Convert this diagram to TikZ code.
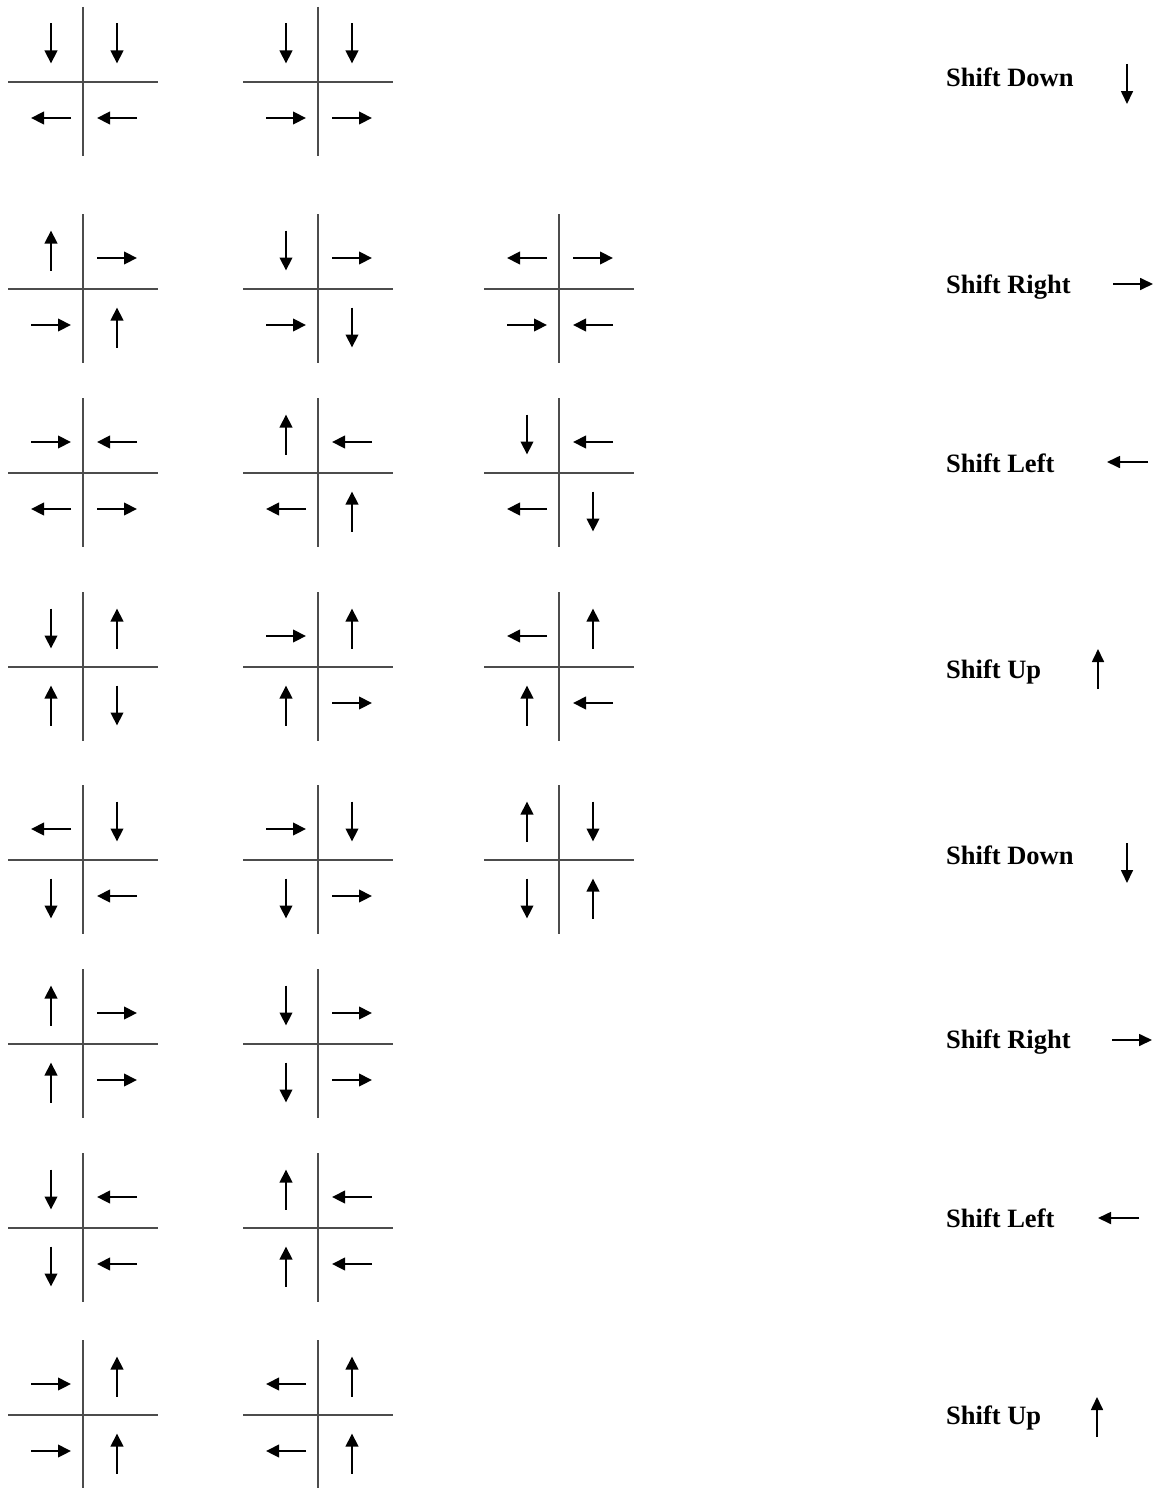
\documentclass[tikz,border=0pt]{standalone}
\usepackage{fontspec}
\setmainfont{Liberation Serif}
\usetikzlibrary{arrows.meta}

\tikzset{
  axisline/.style={black!70,line width=1.1pt},
  arr/.style={-{Triangle[length=13pt,width=12.5pt]},line width=2.2pt},
  keyarr/.style={-{Triangle[length=13pt,width=12pt]},line width=1.7pt},
  lbl/.style={font=\bfseries\fontsize{26.5}{30}\selectfont,inner sep=0pt,anchor=base west}
}

% #1 x of the arrow, #2 y of the cross, #3 -1 top / 1 bottom, #4 U D L R
\newcommand\quadarrow[4]{%
  \if#4D\draw[arr] ({#1},{#2+(#3)*38.5-20}) -- ({#1},{#2+(#3)*38.5+20});\fi
  \if#4U\draw[arr] ({#1},{#2+(#3)*38.5+20}) -- ({#1},{#2+(#3)*38.5-20});\fi
  \if#4R\draw[arr] ({#1-20},{#2+(#3)*33.5+2.5}) -- ({#1+20},{#2+(#3)*33.5+2.5});\fi
  \if#4L\draw[arr] ({#1+20},{#2+(#3)*33.5+2.5}) -- ({#1-20},{#2+(#3)*33.5+2.5});\fi
}

\begin{document}
\begin{tikzpicture}[x=1pt,y=-1pt]
\useasboundingbox (0,0) rectangle (1163,1488);

\foreach \cx/\cy/\qa/\qb/\qc/\qd in {
  83/82/D/D/L/L, 318/82/D/D/R/R,
  83/289/U/R/R/U, 318/289/D/R/R/D, 559/289/L/R/R/L,
  83/473/R/L/L/R, 318/473/U/L/L/U, 559/473/D/L/L/D,
  83/667/D/U/U/D, 318/667/R/U/U/R, 559/667/L/U/U/L,
  83/860/L/D/D/L, 318/860/R/D/D/R, 559/860/U/D/D/U,
  83/1044/U/R/U/R, 318/1044/D/R/D/R,
  83/1228/D/L/D/L, 318/1228/U/L/U/L,
  83/1415/R/U/R/U, 318/1415/L/U/L/U}{
  \draw[axisline] ({\cx-75},\cy) -- ({\cx+75},\cy);
  \draw[axisline] (\cx,{\cy-75}) -- (\cx,{\cy+74});
  \quadarrow{\cx-32}{\cy}{-1}{\qa}
  \quadarrow{\cx+34}{\cy}{-1}{\qb}
  \quadarrow{\cx-32}{\cy}{1}{\qc}
  \quadarrow{\cx+34}{\cy}{1}{\qd}
}

\node[lbl] (down1) at (946,86) {Shift Down};
\node[lbl] (right1) at (946,293) {Shift Right};
\node[lbl] (left1) at (946,472) {Shift Left};
\node[lbl] (up1) at (946,678) {Shift Up};
\node[lbl] (down2) at (946,864) {Shift Down};
\node[lbl] (right2) at (946,1048) {Shift Right};
\node[lbl] (left2) at (946,1227) {Shift Left};
\node[lbl] (up2) at (946,1424) {Shift Up};

\draw[keyarr] (1127,64) -- (1127,104);
\draw[keyarr] (1113,284) -- (1153,284);
\draw[keyarr] (1148,462) -- (1107,462);
\draw[keyarr] (1098,689) -- (1098,649);
\draw[keyarr] (1127,843) -- (1127,883);
\draw[keyarr] (1112,1040) -- (1152,1040);
\draw[keyarr] (1139,1218) -- (1098,1218);
\draw[keyarr] (1097,1437) -- (1097,1397);
\end{tikzpicture}
\end{document}
